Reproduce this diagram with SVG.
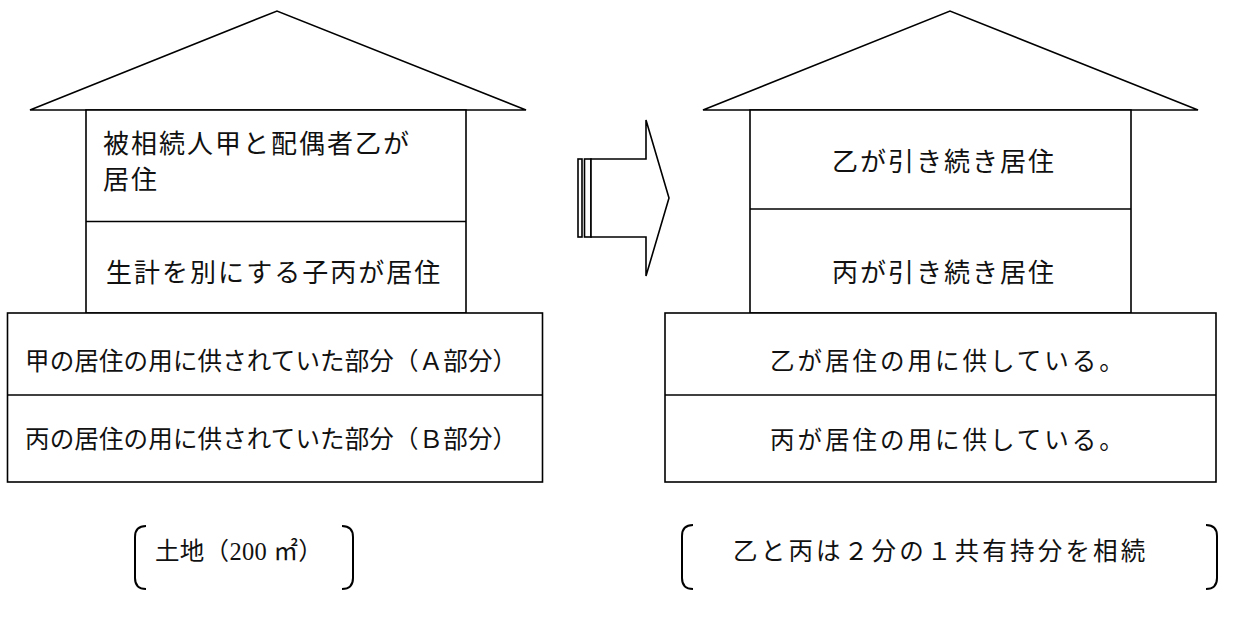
<svg xmlns="http://www.w3.org/2000/svg" width="1235" height="630" viewBox="0 0 1235 630">
<style>
.ln{fill:#fff;stroke:#000;stroke-width:1.6;stroke-linejoin:miter}
.bk{fill:none;stroke:#000;stroke-width:2}
.g{font-family:"Noto Sans CJK JP","Noto Sans",sans-serif;font-size:26px;fill:#111;letter-spacing:2px}
.m{font-family:"Liberation Serif","Noto Sans CJK JP",serif;font-size:24.5px;fill:#111}
</style>
<rect width="1235" height="630" fill="#fff"/>
<g id="house-left">
<polygon class="ln" points="30,110 277,11 526,110"/>
<rect class="ln" x="86" y="110" width="380" height="203"/>
<line class="ln" x1="86" y1="221.5" x2="466" y2="221.5"/>
<text class="g" x="103" y="153">被相続人甲と配偶者乙が</text>
<text class="g" x="103" y="189">居住</text>
<text class="g" x="106" y="282">生計を別にする子丙が居住</text>
</g>
<g id="land-left">
<rect class="ln" x="7.5" y="313" width="535" height="169" stroke-width="2"/>
<line class="ln" x1="7.5" y1="395" x2="542.5" y2="395" stroke-width="2"/>
<text class="m" x="25" y="370" letter-spacing="0.15">甲の居住の用に供されていた部分（Ａ部分）</text>
<text class="m" x="25" y="448" letter-spacing="0.15">丙の居住の用に供されていた部分（Ｂ部分）</text>
</g>
<g id="label-left">
<path class="bk" d="M146,526 Q135,526 135,537 L135,578 Q135,589 146,589"/>
<path class="bk" d="M342,526 Q353,526 353,537 L353,578 Q353,589 342,589"/>
<text class="m" x="155" y="560" letter-spacing="0.3">土地（200 ㎡）</text>
</g>
<g id="connectors">
<rect class="ln" x="578" y="159" width="4" height="78"/>
<rect class="ln" x="584.5" y="159" width="6.5" height="78"/>
<polygon class="ln" points="591,159 646,159 646,120 669,198 646,276 646,237 591,237"/>
</g>
<g id="house-right">
<polygon class="ln" points="703,110 950,11 1198,110"/>
<rect class="ln" x="750" y="110" width="381" height="203"/>
<line class="ln" x1="750" y1="209" x2="1131" y2="209"/>
<text class="g" x="832" y="171">乙が引き続き居住</text>
<text class="g" x="832" y="282">丙が引き続き居住</text>
</g>
<g id="land-right">
<rect class="ln" x="665" y="313" width="551" height="169" stroke-width="2"/>
<line class="ln" x1="665" y1="395" x2="1216" y2="395" stroke-width="2"/>
<text class="m" x="770" y="370" letter-spacing="3">乙が居住の用に供している。</text>
<text class="m" x="770" y="449" letter-spacing="3">丙が居住の用に供している。</text>
</g>
<g id="label-right">
<path class="bk" d="M693,525 Q682,525 682,536 L682,578 Q682,589 693,589"/>
<path class="bk" d="M1206,525 Q1217,525 1217,536 L1217,578 Q1217,589 1206,589"/>
<text class="m" x="733" y="560" letter-spacing="3.2">乙と丙は２分の１共有持分を相続</text>
</g>
</svg>
